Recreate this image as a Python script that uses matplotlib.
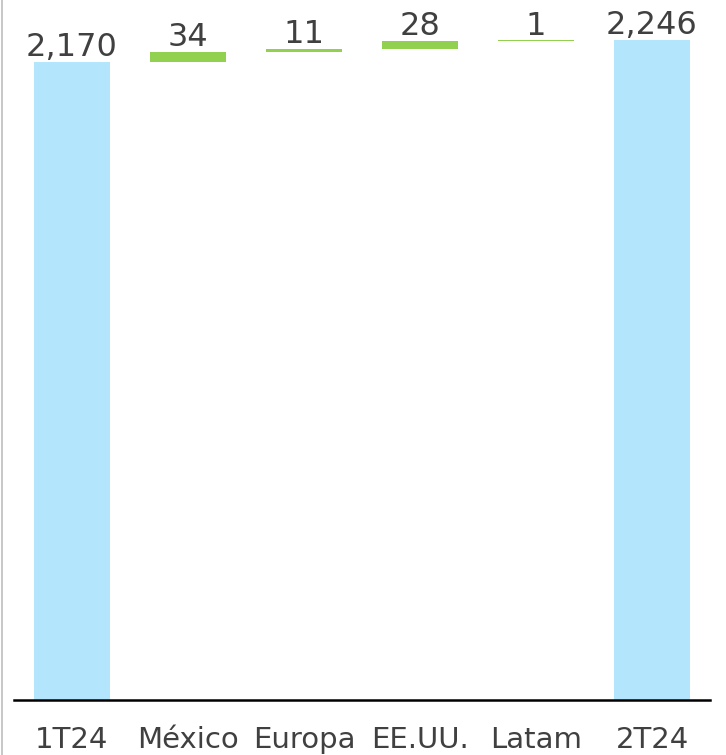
import matplotlib.pyplot as plt
import numpy as np
from matplotlib.lines import Line2D

# datos del puente 1T24 -> 2T24
categorias = ['1T24', 'México', 'Europa', 'EE.UU.', 'Latam', '2T24']
valores = [2170, 34, 11, 28, 1, 2246]
etiquetas = ['2,170', '34', '11', '28', '1', '2,246']
es_total = [True, False, False, False, False, True]

azul = '#B3E5FC'
verde = '#92D050'
gris_texto = '#404040'

fig = plt.figure(figsize=(7.26, 7.55), dpi=100)
ax = fig.add_axes([14 / 726, 55 / 755, 696 / 726, 700 / 755])

# base de cada barra (cascada)
bases = []
acum = 0
for v, t in zip(valores, es_total):
    if t:
        bases.append(0)
        acum = v
    else:
        bases.append(acum)
        acum += v

x = np.arange(len(categorias))
colores = [azul if t else verde for t in es_total]
ax.bar(x, valores, bottom=bases, width=0.66, color=colores, linewidth=0)

for xi, b, v, txt in zip(x, bases, valores, etiquetas):
    ax.annotate(txt, (xi, b + v), xytext=(0, 4), textcoords='offset points',
                ha='center', va='baseline', fontsize=23, color=gris_texto)

ax.set_xlim(-0.5, 5.5)
ax.set_ylim(0, 2381)
ax.set_xticks(x)
ax.set_xticklabels(categorias, fontsize=21, color=gris_texto)
ax.tick_params(axis='x', length=0, pad=19)
ax.set_yticks([])
for lado in ['top', 'right', 'left']:
    ax.spines[lado].set_visible(False)
ax.spines['bottom'].set_linewidth(1.8)
ax.spines['bottom'].set_color('black')

# borde gris a la izquierda
fig.add_artist(Line2D([1.5 / 726, 1.5 / 726], [0, 1], color='#bdbdbd', lw=1.2))

fig.savefig('out.png', dpi=100)
